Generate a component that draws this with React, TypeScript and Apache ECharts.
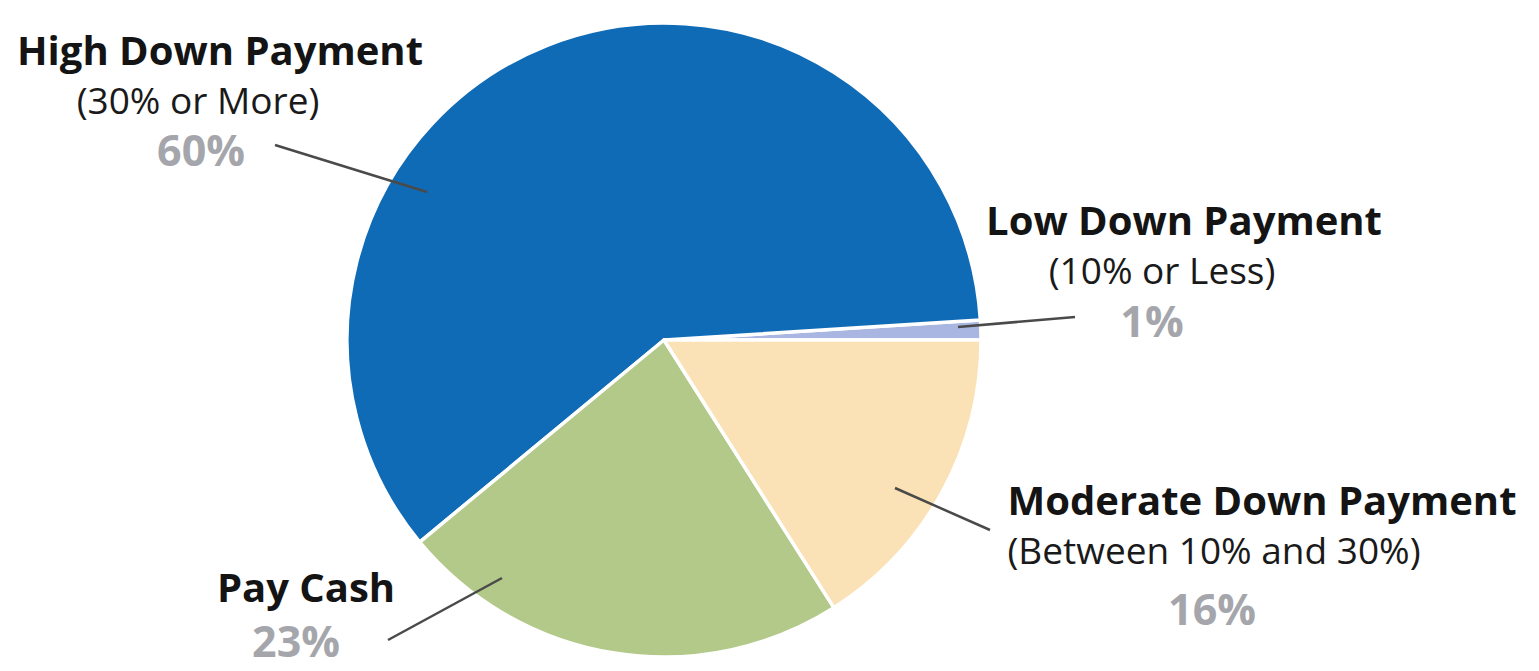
import React, { useEffect, useRef } from "react";
import * as echarts from "echarts";

// Data (counter-clockwise order starting at 3 o'clock)
const categories = ["Low Down Payment", "High Down Payment", "Pay Cash", "Moderate Down Payment"];
const subtitles = ["(10% or Less)", "(30% or More)", "", "(Between 10% and 30%)"];
const shares = [1, 60, 23, 16];

// Styles / layout (kept apart from the data)
const sliceColors = ["#A9B6E2", "#106BB7", "#B3C98A", "#FAE2B6"];
const labelPos = [
  { x: 1184, y: 194, subShift: 22, pctShift: 32, pctLine: 52 },
  { x: 220, y: 24, subShift: 22, pctShift: 19, pctLine: 50 },
  { x: 306, y: 561, subShift: 0, pctShift: 10, pctLine: 58 },
  { x: 1262, y: 474, subShift: 48, pctShift: 50, pctLine: 68 },
];
const leaderLines = [
  [958, 327, 1075, 317],
  [427, 192, 275, 145],
  [502, 578, 388, 640],
  [895, 488, 990, 530],
];

const FONT = "'Open Sans', 'Noto Sans', sans-serif";

export default function App() {
  const ref = useRef<HTMLDivElement>(null);

  useEffect(() => {
    if (!ref.current) return;
    const chart = echarts.init(ref.current, undefined, { renderer: "svg" });

    const data = categories.map((name, i) => ({
      name,
      value: shares[i],
      itemStyle: { color: sliceColors[i] },
      label: {
        rich: {
          n: { fontFamily: FONT, fontWeight: "bold", fontSize: 40, color: "#141414", lineHeight: 50 },
          s: {
            fontFamily: FONT,
            fontSize: 37,
            color: "#1a1a1a",
            lineHeight: 50,
            padding: [0, labelPos[i].subShift * 2, 0, 0],
          },
          p: {
            fontFamily: FONT,
            fontWeight: "bold",
            fontSize: 43,
            color: "#A5A6AB",
            lineHeight: labelPos[i].pctLine,
            padding: [0, labelPos[i].pctShift * 2, 0, 0],
          },
        },
      },
    }));

    const option: any = {
      animation: false,
      backgroundColor: "#ffffff",
      series: [
        {
          type: "pie",
          center: [664, 340],
          radius: 317,
          startAngle: 0,
          clockwise: false,
          avoidLabelOverlap: false,
          itemStyle: { borderColor: "#ffffff", borderWidth: 3.5 },
          label: {
            show: true,
            position: "outside",
            formatter: (p: any) => {
              const sub = subtitles[p.dataIndex];
              return sub
                ? `{n|${p.name}}\n{s|${sub}}\n{p|${p.value}%}`
                : `{n|${p.name}}\n{p|${p.value}%}`;
            },
          },
          labelLine: { show: false },
          labelLayout: (params: any) => {
            const lp = labelPos[params.dataIndex];
            return { x: lp.x, y: lp.y, align: "center", verticalAlign: "top" };
          },
          emphasis: { disabled: true },
          data,
        },
      ],
      graphic: leaderLines.map((l) => ({
        type: "line",
        shape: { x1: l[0], y1: l[1], x2: l[2], y2: l[3] },
        style: { stroke: "#4a4a4a", lineWidth: 2.5 },
        z: 100,
      })),
    };

    chart.setOption(option);
    return () => chart.dispose();
  }, []);

  return (
    <div
      ref={ref}
      style={{ position: "fixed", left: 0, top: 0, width: 1539, height: 671, background: "#fff" }}
    />
  );
}
